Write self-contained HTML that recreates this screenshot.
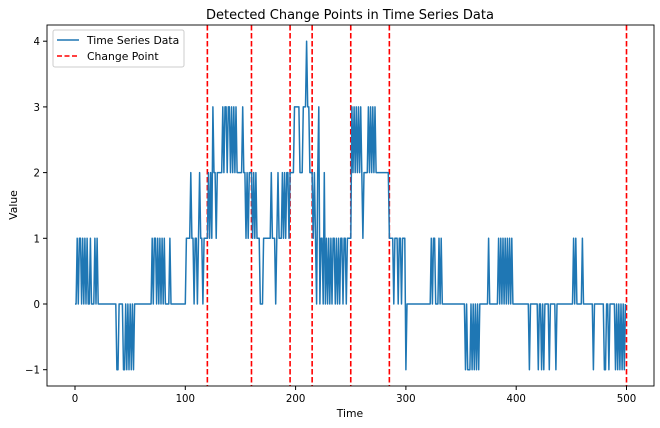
<!DOCTYPE html>
<html><head><meta charset="utf-8"><style>
html,body{margin:0;padding:0;background:#fff;}
svg{display:block;font-family:"DejaVu Sans","Liberation Sans",sans-serif;}
</style></head><body>
<svg id="s" width="660" height="428" viewBox="0 0 660 428">
<rect x="0" y="0" width="660" height="428" fill="#fff"/>
<text x="350" y="19" text-anchor="middle" font-size="13">Detected Change Points in Time Series Data</text>
<g id="cp" stroke="#ff0000" stroke-width="1.6" stroke-dasharray="5.5,2.5"></g>
<polyline id="ln" fill="none" stroke="#1f77b4" stroke-width="1.5" stroke-linejoin="round"/>
<rect x="47" y="25" width="607" height="361" fill="none" stroke="#000" stroke-width="0.9"/>
<g id="ticks" font-size="10.2" fill="#000"></g>
<text x="350" y="417" text-anchor="middle" font-size="10.8">Time</text>
<text transform="translate(17,205) rotate(-90)" text-anchor="middle" font-size="10.8">Value</text>
<rect x="53" y="30" width="131" height="37" fill="#fff" stroke="#ccc" stroke-width="1" rx="2"/>
<line x1="57" y1="40" x2="79" y2="40" stroke="#1f77b4" stroke-width="1.5"/>
<text x="87" y="44" font-size="10.8">Time Series Data</text>
<line x1="57" y1="56" x2="79" y2="56" stroke="#ff0000" stroke-width="1.5" stroke-dasharray="5,2.5"/>
<text x="87" y="60" font-size="10.8">Change Point</text>
</svg>
<script>
var X=function(t){return 75+t*1.103;},Y=function(v){return 304-v*65.7;};
var v=[];for(var t=0;t<500;t++)v[t]=0;
function set(a,b,val){for(var t=a;t<=b;t++)v[t]=val;}
function pts(l,val){l.forEach(function(t){v[t]=val;});}
pts([2,4,5,7,9,11,14,18,20,70,72,73,75,77,79,81,86],1);
pts([38,39,44,45,47,49,51,53],-1);
set(100,119,1);pts([100,108,111,116],0);pts([105,113],2);
set(120,159,2);pts([125,134,136,137,139,140,142,144,146,152],3);pts([120,122,124,128,155,157],1);
set(160,194,1);pts([160,162,164,178,184,188,190,192,193],2);pts([168,169,170,182],0);
set(195,214,2);set(199,203,3);set(207,212,3);v[210]=4;
set(215,249,1);pts([219,222,225,227,229,231,233,236,238,240,243,246],0);pts([215,217,220,226],2);v[221]=3;
set(250,284,2);pts([251,253,255,257,259,266,268,270,272],3);pts([250,261],1);
set(285,299,1);pts([289,293,296],0);
pts([323,325,326,330,332,375,384,386,388,390,392,394,396,452,454,460],1);
pts([300,354,356,357,358,360,362,364,366,412,420,423,425,430,436,470,480,481,484,490,492,494,496,498],-1);
var p=[];for(t=0;t<500;t++)p.push(X(t).toFixed(1)+","+Y(v[t]).toFixed(1));
document.getElementById("ln").setAttribute("points",p.join(" "));
var ns="http://www.w3.org/2000/svg",cp=document.getElementById("cp");
[120,160,195,215,250,285,500].forEach(function(c){var l=document.createElementNS(ns,"line");
l.setAttribute("x1",X(c));l.setAttribute("x2",X(c));l.setAttribute("y1",25);l.setAttribute("y2",386);cp.appendChild(l);});
var tk=document.getElementById("ticks");
function add(tag,attrs,txt){var e=document.createElementNS(ns,tag);for(var k in attrs)e.setAttribute(k,attrs[k]);if(txt!=null)e.textContent=txt;tk.appendChild(e);}
[0,100,200,300,400,500].forEach(function(t){add("line",{x1:X(t),x2:X(t),y1:386,y2:390,stroke:"#000"});add("text",{x:X(t),y:402,"text-anchor":"middle"},t);});
[-1,0,1,2,3,4].forEach(function(k){add("line",{x1:43,x2:47,y1:Y(k),y2:Y(k),stroke:"#000"});add("text",{x:40,y:Y(k)+4,"text-anchor":"end"},k<0?"\u22121":k);});
</script>
</body></html>
